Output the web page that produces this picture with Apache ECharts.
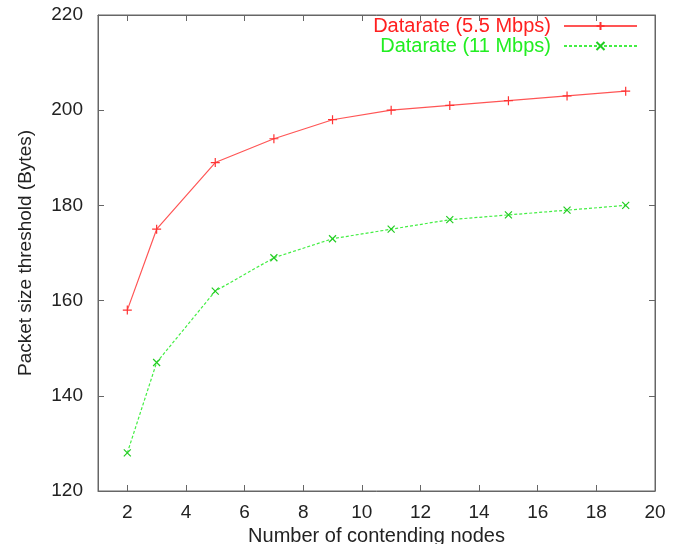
<!DOCTYPE html>
<html>
<head>
<meta charset="utf-8">
<script src="https://cdn.jsdelivr.net/npm/echarts@6/dist/echarts.min.js"></script>
<style>
html, body { margin: 0; padding: 0; background: #fff; }
#chart { width: 689px; height: 544px; }
</style>
</head>
<body>
<div id="chart"></div>
<script>
var nodes = [2, 3, 5, 7, 9, 11, 13, 15, 17, 19];
var rate55 = [158, 175, 189, 194, 198, 200, 201, 202, 203, 204];
var rate11 = [128, 147, 162, 169, 173, 175, 177, 178, 179, 180];
var xTicks = [2, 4, 6, 8, 10, 12, 14, 16, 18, 20];

function pairs(xs, ys) {
    var out = [];
    for (var i = 0; i < xs.length; i++) {
        out.push([xs[i], ys[i]]);
    }
    return out;
}

var plusPath = 'path://M0,5L10,5M5,0L5,10';
var crossPath = 'path://M0,0L10,10M0,10L10,0';
var fontName = 'Liberation Sans, Arial, sans-serif';
var frameColor = '#666';

var myChart = echarts.init(document.getElementById('chart'));
var option = {
    animation: false,
    backgroundColor: '#fff',
    grid: {
        left: 98,
        right: 34,
        top: 15,
        bottom: 53,
        outerBoundsMode: 'none',
        show: true,
        borderColor: frameColor,
        borderWidth: 1
    },
    legend: {
        right: 46,
        top: 11,
        orient: 'vertical',
        align: 'right',
        itemWidth: 73,
        itemHeight: 10,
        itemGap: 0,
        textStyle: { fontFamily: fontName, fontSize: 20, padding: [0, 8, 0, 0] },
        data: [
            { name: 'Datarate (5.5 Mbps)', textStyle: { color: '#ff2020' } },
            { name: 'Datarate (11 Mbps)', textStyle: { color: '#22ee22' } }
        ]
    },
    xAxis: [{
        type: 'value',
        min: 1,
        max: 20,
        interval: 1,
        name: 'Number of contending nodes',
        nameLocation: 'middle',
        nameGap: 34,
        nameTextStyle: { fontFamily: fontName, fontSize: 20, color: '#222' },
        axisLine: { show: true, lineStyle: { color: frameColor } },
        axisTick: { inside: true, length: 6, lineStyle: { color: frameColor }, customValues: xTicks },
        axisLabel: { margin: 12, fontFamily: fontName, fontSize: 19, color: '#222', customValues: xTicks },
        splitLine: { show: false }
    }, {
        type: 'value',
        position: 'top',
        min: 1,
        max: 20,
        interval: 1,
        axisLine: { show: true, lineStyle: { color: frameColor } },
        axisTick: { inside: true, length: 6, lineStyle: { color: frameColor }, customValues: xTicks },
        axisLabel: { show: false },
        splitLine: { show: false }
    }],
    yAxis: [{
        type: 'value',
        min: 120,
        max: 220,
        interval: 20,
        name: 'Packet size threshold (Bytes)',
        nameLocation: 'middle',
        nameGap: 63,
        nameTextStyle: { fontFamily: fontName, fontSize: 19, color: '#222' },
        axisLine: { show: true, lineStyle: { color: frameColor } },
        axisTick: { inside: true, length: 6, lineStyle: { color: frameColor } },
        axisLabel: { margin: 15, fontFamily: fontName, fontSize: 19, color: '#222' },
        splitLine: { show: false }
    }, {
        type: 'value',
        position: 'right',
        min: 120,
        max: 220,
        interval: 20,
        axisLine: { show: true, lineStyle: { color: frameColor } },
        axisTick: { inside: true, length: 6, lineStyle: { color: frameColor } },
        axisLabel: { show: false },
        splitLine: { show: false }
    }],
    series: [{
        name: 'Datarate (5.5 Mbps)',
        type: 'line',
        data: pairs(nodes, rate55),
        symbol: plusPath,
        symbolSize: 9,
        lineStyle: { color: '#ff5555', width: 1.2 },
        itemStyle: { color: 'none', borderColor: '#ff3333', borderWidth: 1.2 }
    }, {
        name: 'Datarate (11 Mbps)',
        type: 'line',
        data: pairs(nodes, rate11),
        symbol: crossPath,
        symbolSize: 7,
        lineStyle: { color: '#44ee44', width: 1.2, type: [3, 2] },
        itemStyle: { color: 'none', borderColor: '#22cc22', borderWidth: 1.2 }
    }]
};
myChart.setOption(option);
</script>
</body>
</html>
